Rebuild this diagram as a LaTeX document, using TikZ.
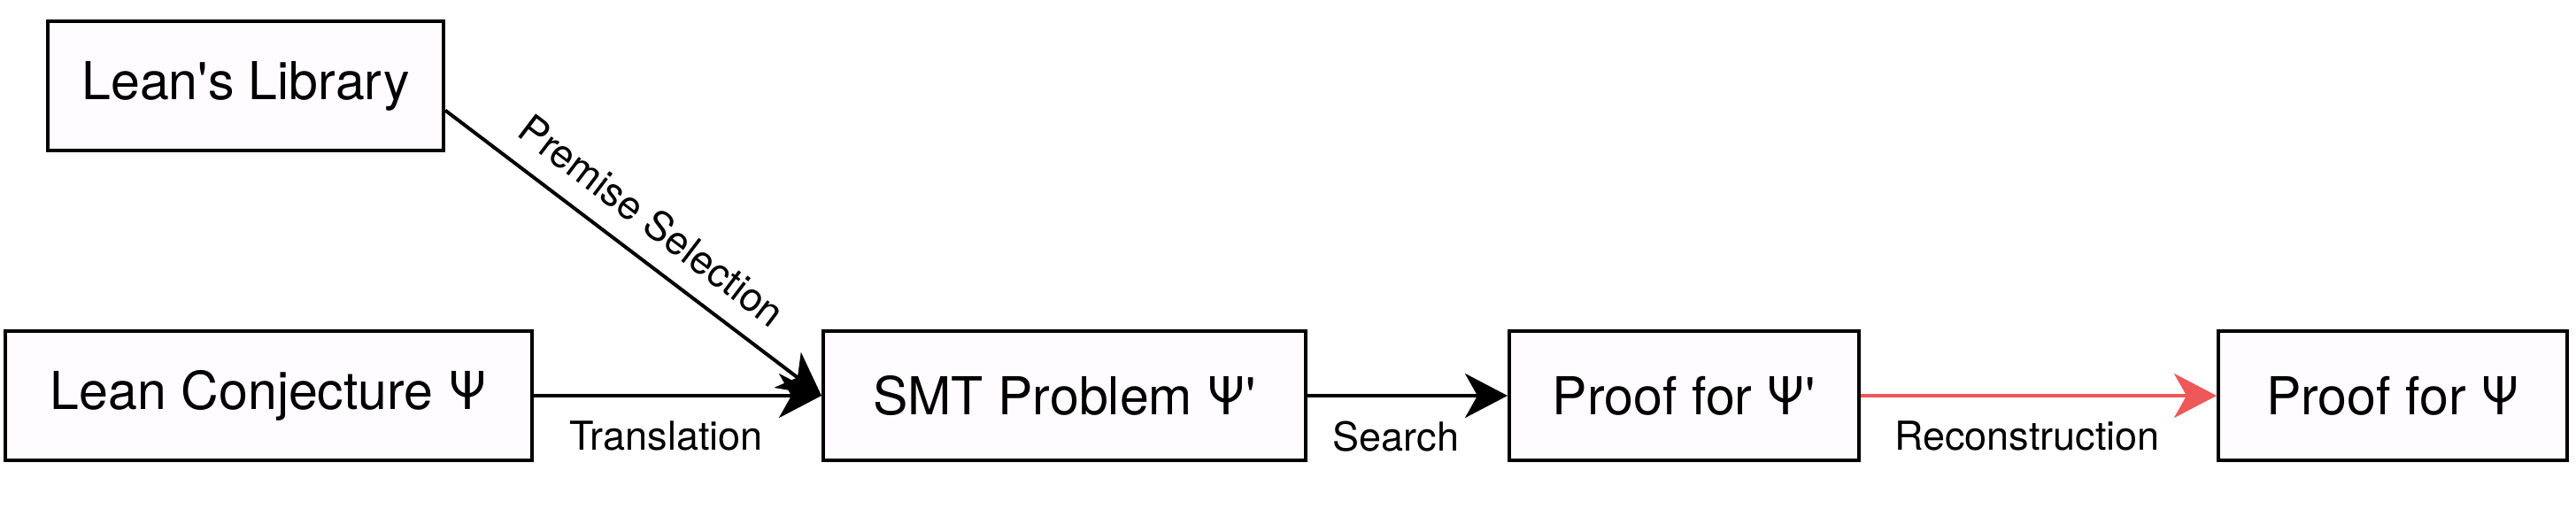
\documentclass[tikz,border=0pt]{standalone}
\usepackage{fontspec}
\setmainfont{TeX Gyre Heros}
\usetikzlibrary{arrows.meta}
\definecolor{boxfill}{RGB}{255,252,255}
\definecolor{recred}{RGB}{238,88,88}

\begin{document}
\begin{tikzpicture}[
  box/.style={rectangle, draw, line width=0.04cm, fill=boxfill, inner sep=0pt,
    minimum height=1.46cm, font=\fontsize{16.8}{20}\selectfont},
  flow/.style={line width=0.04cm, -{Stealth[length=0.48cm, width=0.5cm, inset=0.14cm]}},
  lbl/.style={font=\fontsize{12.8}{16}\selectfont},
  underlbl/.style={lbl, below=0.15cm, xshift=-0.13cm}
]
\useasboundingbox (0,0) rectangle (29.1,5.75);
\path (2.775,4.78) node[box, minimum width=4.47cm](lib) {Lean\textquotesingle s Library}
(3.035,1.28) node[box, minimum width=5.95cm](conj) {Lean Conjecture Ψ}
(12.025,1.28) node[box, minimum width=5.45cm](smt) {SMT Problem Ψ\textquotesingle}
(19.025,1.28) node[box, minimum width=3.95cm](pf1) {Proof for Ψ\textquotesingle}
(27.03,1.28) node[box, minimum width=3.94cm](pf2) {Proof for Ψ};
%\draw[flow] (lib) -- (smt);
\draw[flow] (lib.-7) -- node[lbl, sloped, above=0.11cm, pos=0.49]{Premise Selection} (smt.west);
\draw[flow] (conj.east) -- node[underlbl] {Translation} (smt.west);
\draw[flow] (smt.east) -- node[underlbl] {Search} (pf1.west);
\draw[flow, recred] (pf1.east) -- node[underlbl, black] {Reconstruction} (pf2.west);
\end{tikzpicture}
\end{document}
